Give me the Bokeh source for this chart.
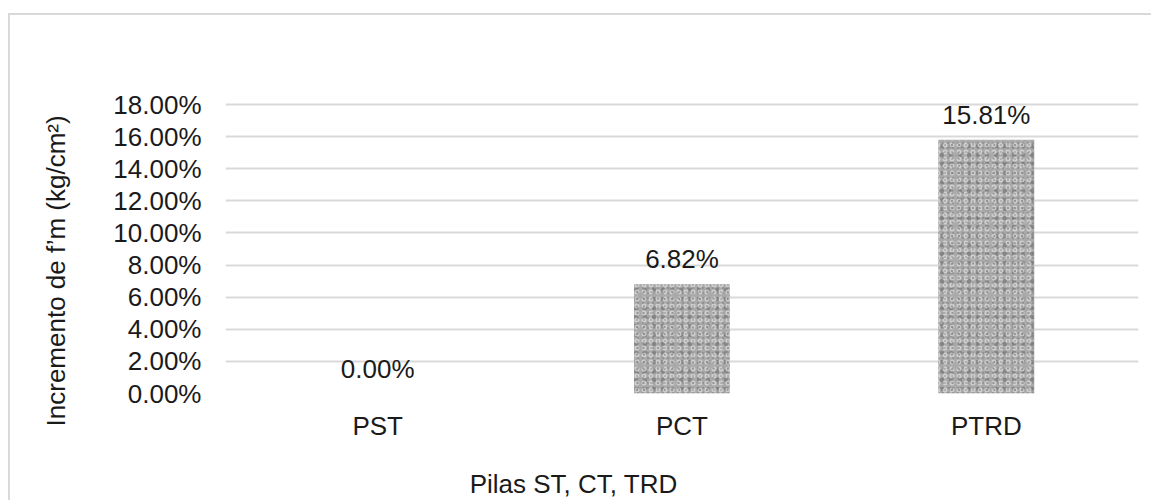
from bokeh.plotting import figure
from bokeh.models import ColumnDataSource, FactorRange, NumeralTickFormatter, FixedTicker, LabelSet
from bokeh.embed import file_html
from bokeh.resources import INLINE
from bokeh.core.properties import value

categories = ["PST", "PCT", "PTRD"]
values = [0.0, 0.0682, 0.1581]
labels = ["0.00%", "6.82%", "15.81%"]
y_ticks = [0.0, 0.02, 0.04, 0.06, 0.08, 0.10, 0.12, 0.14, 0.16, 0.18]
x_title = "Pilas ST, CT, TRD"
y_title = "Incremento de f’m (kg/cm²)"

FONT = "Liberation Sans"
TXT = "#1a1a1a"
FS = "26px"
NB = "\u00a0"

# 18% gridline at 104px, 0% at 393px; frame top at 90px leaves room for the bar labels
y_end = y_ticks[-1] * (393 - 90) / (393 - 104)

src = ColumnDataSource(dict(cat=categories, val=values, lab=labels))

p = figure(width=1143, height=487, x_range=FactorRange(factors=categories),
           y_range=(0, y_end), output_backend="svg", toolbar_location=None,
           min_border_left=215, min_border_right=15, min_border_top=75, min_border_bottom=109)
p.margin = (13, 0, 0, 8)
p.styles = {"border-left": "2px solid #d9d9d9", "border-top": "2px solid #d9d9d9"}
p.outline_line_color = None
p.background_fill_color = "white"
p.border_fill_color = "white"

# granite-like look: base fill plus overlaid speckle hatches of different periods
p.vbar(x="cat", top="val", width=0.315, source=src, fill_color="#a9a9a9", line_color=None,
       hatch_pattern="dot", hatch_color="#5c5c5c", hatch_scale=9, hatch_weight=3, hatch_alpha=0.45)
p.vbar(x="cat", top="val", width=0.315, source=src, fill_alpha=0, line_color=None,
       hatch_pattern="ring", hatch_color="#e0e0e0", hatch_scale=7, hatch_weight=1.5, hatch_alpha=0.7)
p.vbar(x="cat", top="val", width=0.315, source=src, fill_alpha=0, line_color=None,
       hatch_pattern="dot", hatch_color="#767676", hatch_scale=5, hatch_weight=1.5, hatch_alpha=0.4)

p.add_layout(LabelSet(x="cat", y="val", text="lab", source=src, text_align="center",
                      text_baseline="alphabetic", y_offset=16, text_font=value(FONT),
                      text_font_size=value(FS), text_color=TXT))

p.xgrid.grid_line_color = None
p.ygrid.grid_line_color = "#d9d9d9"
p.ygrid.grid_line_width = 2
p.yaxis.ticker = FixedTicker(ticks=y_ticks)
p.yaxis.formatter = NumeralTickFormatter(format="0.00%")

for ax in (p.xaxis[0], p.yaxis[0]):
    ax.axis_line_color = None
    ax.major_tick_line_color = None
    ax.minor_tick_line_color = None
    ax.major_tick_out = 0
    ax.major_tick_in = 0
    ax.major_label_text_font = FONT
    ax.major_label_text_font_size = FS
    ax.major_label_text_color = TXT
    ax.axis_label_text_font = FONT
    ax.axis_label_text_font_size = FS
    ax.axis_label_text_font_style = "normal"
    ax.axis_label_text_color = TXT

p.yaxis.major_label_standoff = 24
p.yaxis.axis_label = y_title + NB * 8
p.yaxis.axis_label_standoff = 39
p.xaxis.major_label_standoff = 17
p.xaxis.axis_label = x_title + NB * 30
p.xaxis.axis_label_standoff = 25

open("out.html", "w").write(file_html(p, INLINE))
